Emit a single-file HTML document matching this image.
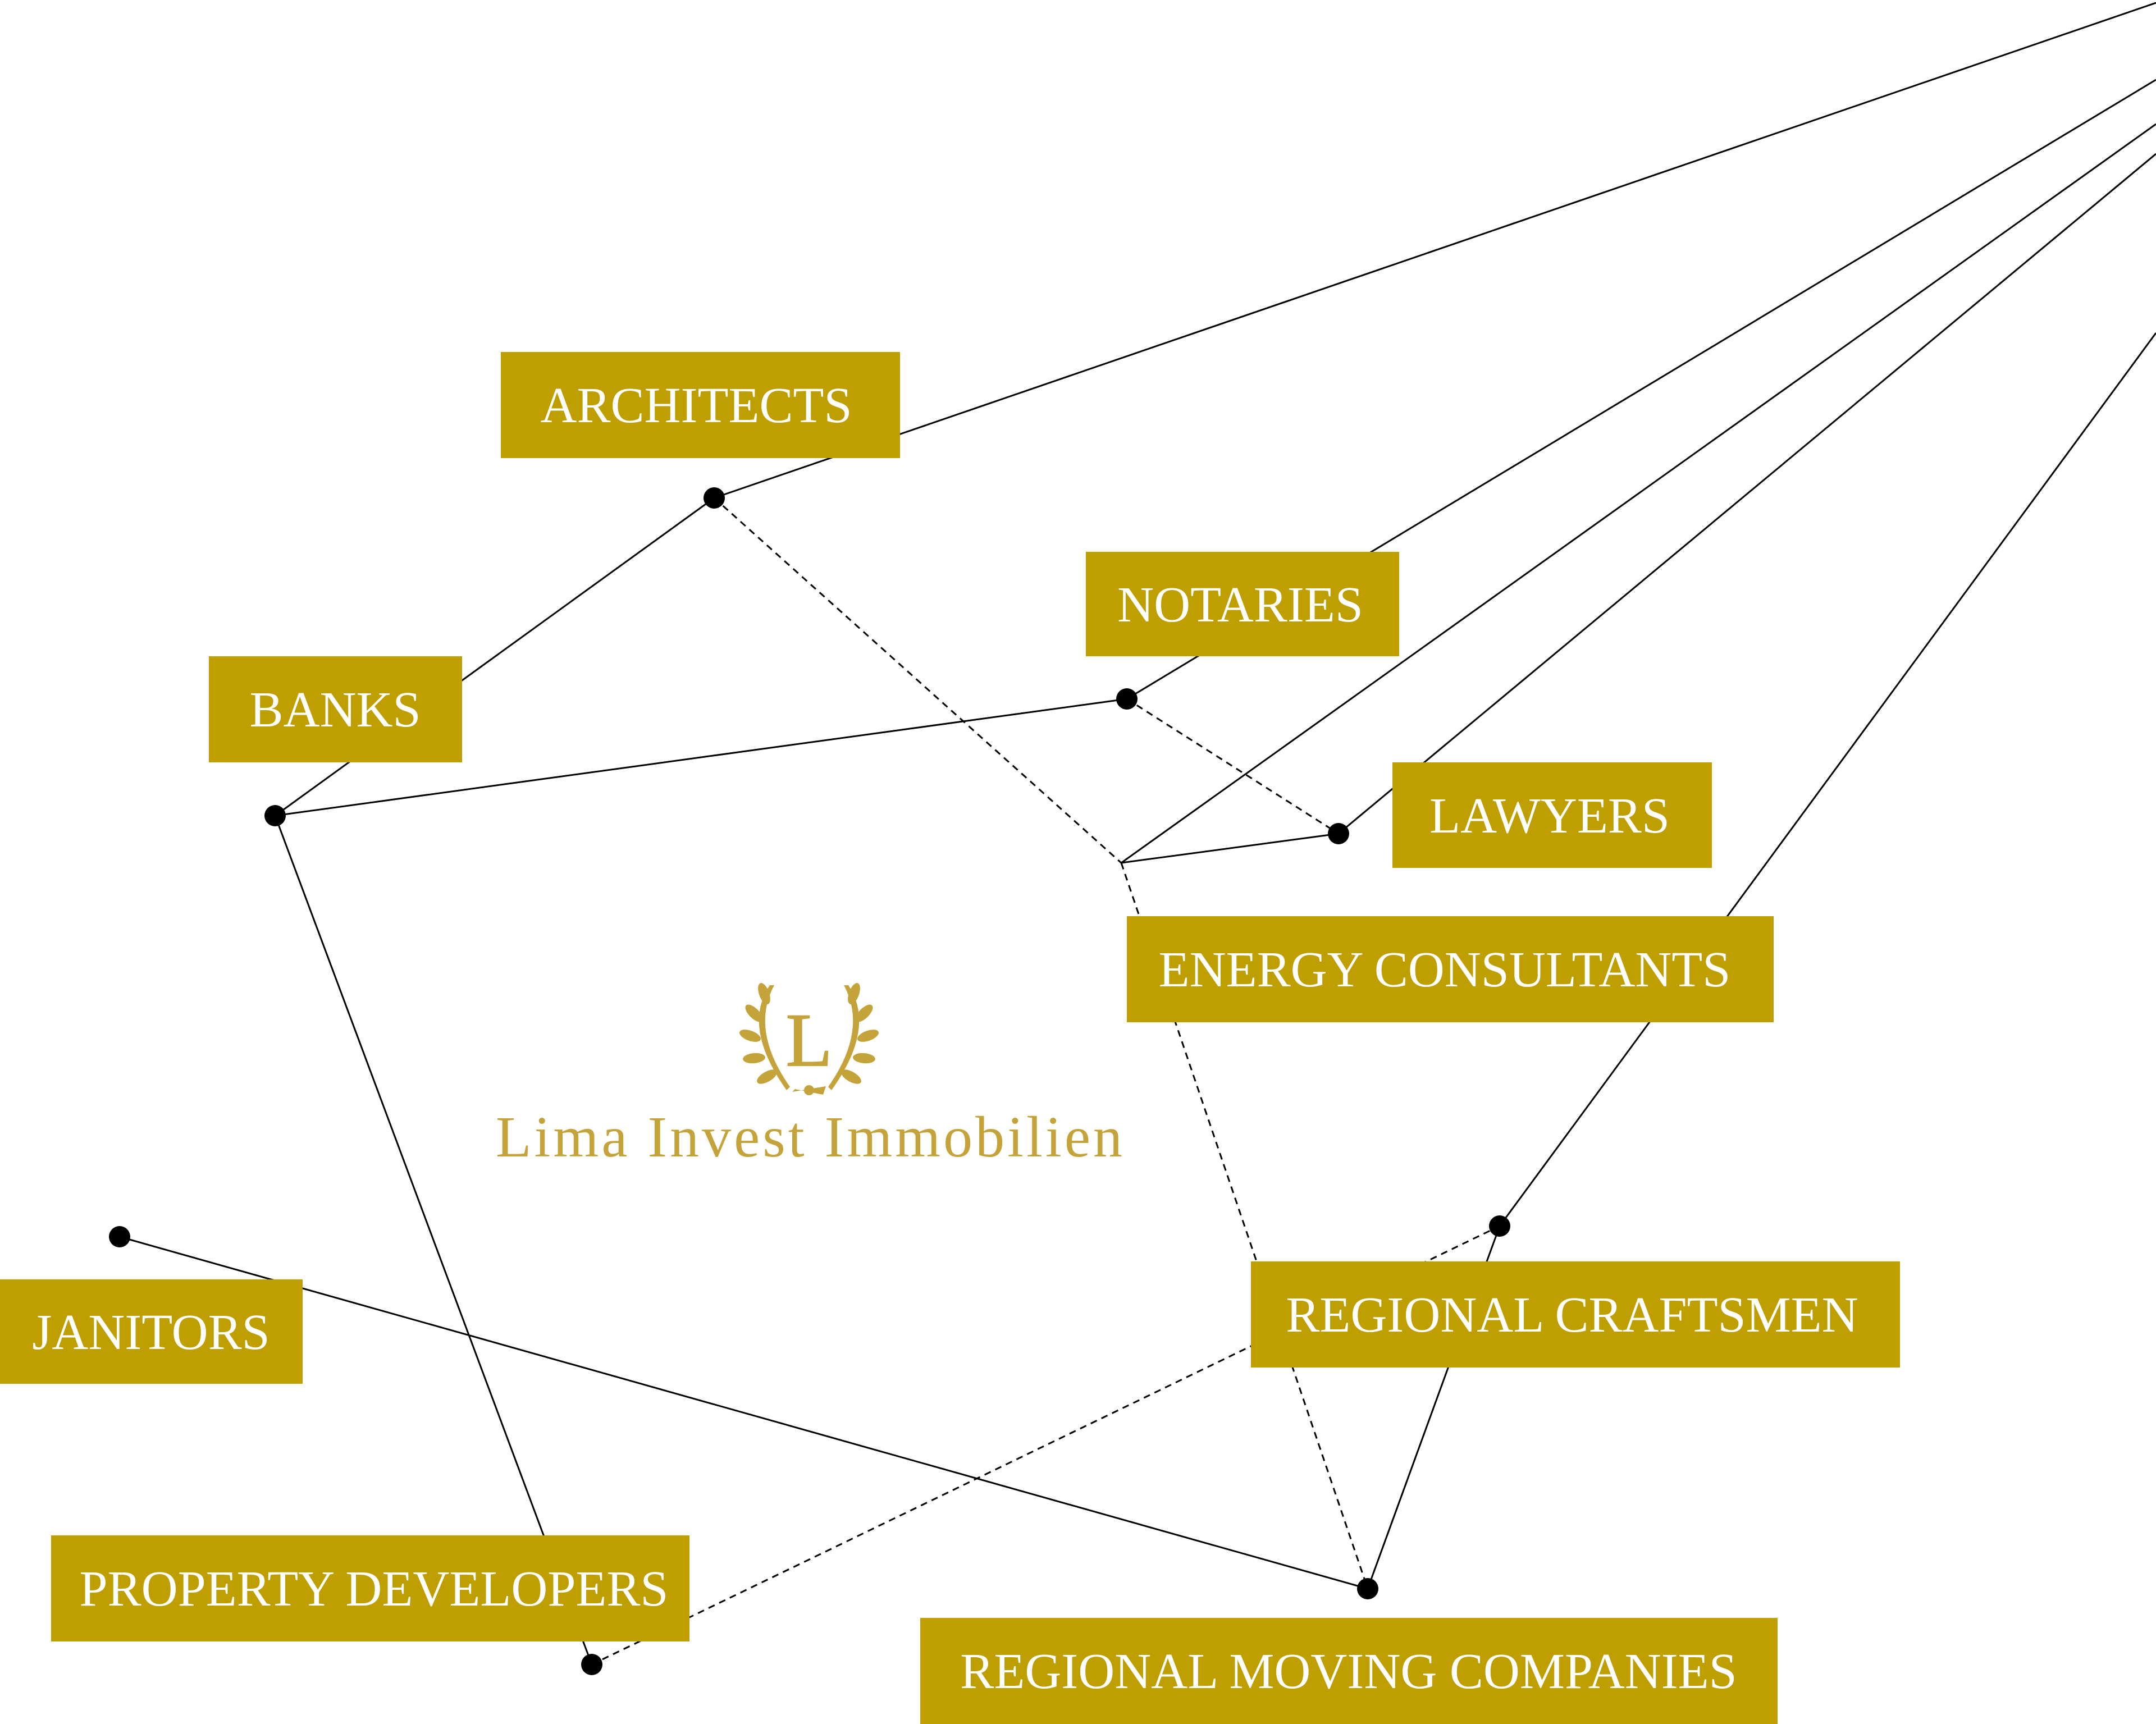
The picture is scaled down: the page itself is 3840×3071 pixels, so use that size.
<!DOCTYPE html>
<html><head><meta charset="utf-8"><style>
html,body{margin:0;padding:0;background:#fff;}
svg{display:block;}
</style></head><body>
<svg width="3840" height="3071" viewBox="0 0 3840 3071" xmlns="http://www.w3.org/2000/svg">
<g stroke="#000" stroke-width="3" fill="none">
<line x1="1272" y1="887" x2="3840" y2="5"/>
<line x1="1272" y1="887" x2="490" y2="1453"/>
<line x1="490" y1="1453" x2="2007" y2="1245"/>
<line x1="2007" y1="1245" x2="3840" y2="142"/>
<line x1="1997" y1="1537" x2="3840" y2="221"/>
<line x1="2384" y1="1485" x2="3840" y2="274"/>
<line x1="1997" y1="1537" x2="2384" y2="1485"/>
<line x1="2671" y1="2184" x2="3840" y2="593"/>
<line x1="490" y1="1453" x2="1054" y2="2965"/>
<line x1="213" y1="2203" x2="2436" y2="2830"/>
<line x1="2671" y1="2184" x2="2436" y2="2830"/>
<g stroke-dasharray="12,9">
<line x1="1272" y1="887" x2="1997" y2="1537"/>
<line x1="2007" y1="1245" x2="2384" y2="1485"/>
<line x1="1997" y1="1537" x2="2436" y2="2830"/>
<line x1="1054" y1="2965" x2="2671" y2="2184"/>
</g>
</g>
<g fill="#000">
<circle cx="1272" cy="887" r="19"/><circle cx="2007" cy="1245" r="19"/>
<circle cx="490" cy="1453" r="19"/><circle cx="2384" cy="1485" r="19"/>
<circle cx="2671" cy="2184" r="19"/><circle cx="213" cy="2203" r="19"/>
<circle cx="2436" cy="2830" r="19"/><circle cx="1054" cy="2965" r="19"/>
</g>
<g fill="#BF9E00">
<rect x="892" y="627" width="711" height="189"/>
<rect x="1934" y="983" width="558" height="186"/>
<rect x="372" y="1169" width="451" height="189"/>
<rect x="2480" y="1358" width="569" height="188"/>
<rect x="2007" y="1632" width="1152" height="189"/>
<rect x="0" y="2279" width="539" height="186"/>
<rect x="2228" y="2247" width="1156" height="189"/>
<rect x="91" y="2735" width="1137" height="189"/>
<rect x="1639" y="2882" width="1527" height="189"/>
</g>
<g fill="#fff" font-family="Liberation Serif, serif" font-size="90" text-anchor="middle">
<text x="1240" y="752">ARCHITECTS</text>
<text x="2209" y="1107">NOTARIES</text>
<text x="597" y="1294">BANKS</text>
<text x="2760" y="1483">LAWYERS</text>
<text x="2573" y="1757">ENERGY CONSULTANTS</text>
<text x="269" y="2403">JANITORS</text>
<text x="2800" y="2372">REGIONAL CRAFTSMEN</text>
<text x="666" y="2860">PROPERTY DEVELOPERS</text>
<text x="2402" y="3007">REGIONAL MOVING COMPANIES</text>
</g>
<g fill="#C4A43A" stroke="none">
<g transform="translate(1441,1850)">
<path d="M-70,-95 Q-120,-20 -40,92 L-34,86 Q-105,-15 -62,-95Z"/>
<path d="M70,-95 Q120,-20 40,92 L34,86 Q105,-15 62,-95Z"/>
<g>
<ellipse cx="-80" cy="-80" rx="9" ry="20" transform="rotate(-20 -80 -80)"/>
<ellipse cx="-98" cy="-45" rx="9" ry="20" transform="rotate(-45 -98 -45)"/>
<ellipse cx="-105" cy="-5" rx="9" ry="20" transform="rotate(-70 -105 -5)"/>
<ellipse cx="-98" cy="35" rx="9" ry="20" transform="rotate(-95 -98 35)"/>
<ellipse cx="-75" cy="68" rx="9" ry="20" transform="rotate(-120 -75 68)"/>
<ellipse cx="80" cy="-80" rx="9" ry="20" transform="rotate(20 80 -80)"/>
<ellipse cx="98" cy="-45" rx="9" ry="20" transform="rotate(45 98 -45)"/>
<ellipse cx="105" cy="-5" rx="9" ry="20" transform="rotate(70 105 -5)"/>
<ellipse cx="98" cy="35" rx="9" ry="20" transform="rotate(95 98 35)"/>
<ellipse cx="75" cy="68" rx="9" ry="20" transform="rotate(120 75 68)"/>
<circle cx="0" cy="92" r="9"/>
<path d="M-30,95 L30,85 L25,100 L-25,90Z"/>
</g>
<text x="0" y="48" font-family="Liberation Serif, serif" font-size="135" text-anchor="middle" stroke="#C4A43A" stroke-width="2">L</text>
</g>
<text x="1443" y="2060" font-family="Liberation Serif, serif" font-size="104" text-anchor="middle" textLength="1120" letter-spacing="4">Lima Invest Immobilien</text>
</g>
</svg>
</body></html>
